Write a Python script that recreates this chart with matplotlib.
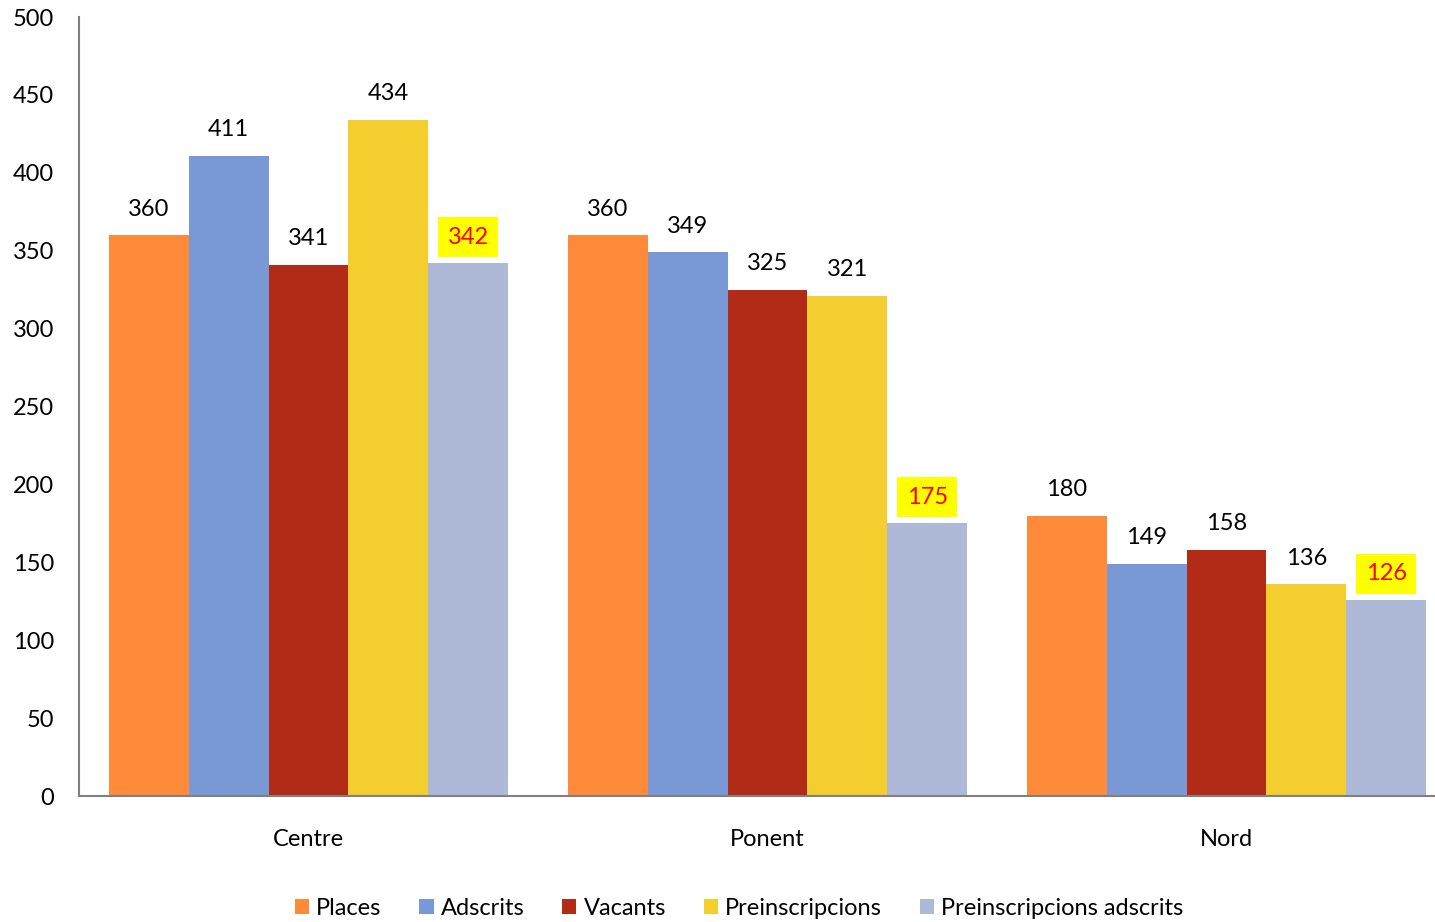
import numpy as np
import matplotlib.pyplot as plt
plt.rcParams['font.family'] = ['Lato', 'DejaVu Sans']

categories = ['Centre', 'Ponent', 'Nord']
series = ['Places', 'Adscrits', 'Vacants', 'Preinscripcions', 'Preinscripcions adscrits']
places = [360, 360, 180]
adscrits = [411, 349, 149]
vacants = [341, 325, 158]
preins = [434, 321, 136]
preins_adscrits = [342, 175, 126]
values = [places, adscrits, vacants, preins, preins_adscrits]
colors = ['#FF8A3A', '#7899D6', '#B22B17', '#F4CD2F', '#ADB9D6']

fig = plt.figure(figsize=(14.35, 9.22), dpi=100)
ax = fig.add_axes([79/1435, 1-796/922, 1377/1435, 779/922])

x = np.arange(len(categories))
w = 0.87 / 5
for i, (name, vals) in enumerate(zip(series, values)):
    pos = x + (i - 2) * w
    ax.bar(pos, vals, w, color=colors[i], label=name)
    for p, v in zip(pos, vals):
        if i == 4:
            ax.text(p, v + 10, str(v), ha='center', va='bottom', fontsize=17, color='red',
                    bbox=dict(boxstyle='square,pad=0.4', fc='yellow', ec='none'))
        else:
            ax.text(p, v + 10, str(v), ha='center', va='bottom', fontsize=17)

ax.set_xlim(-0.5, 2.5)
ax.set_ylim(0, 500)
ax.set_yticks(range(0, 501, 50))
ax.set_xticks(x)
ax.set_xticklabels(categories)
ax.tick_params(length=0, labelsize=17)
ax.tick_params(axis='x', pad=24)
ax.tick_params(axis='y', pad=18)
for s in ['top', 'right']:
    ax.spines[s].set_visible(False)
for s in ['left', 'bottom']:
    ax.spines[s].set_color('#808080')
    ax.spines[s].set_linewidth(1.5)

fig.legend(loc='lower center', bbox_to_anchor=(0.515, -0.02), ncol=5, frameon=False,
           fontsize=17, handlelength=0.6, handleheight=0.6, handletextpad=0.3, columnspacing=1.6)

fig.savefig('out.png', dpi=100)
